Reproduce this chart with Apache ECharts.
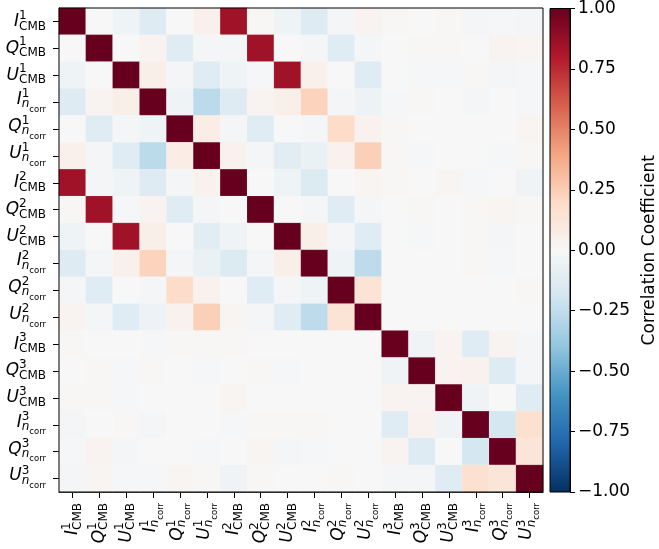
<!DOCTYPE html>
<html>
<head>
<meta charset="utf-8">
<script src="https://cdn.jsdelivr.net/npm/echarts@6/dist/echarts.min.js"></script>
<style>
html, body { margin: 0; padding: 0; background: #fff; }
#chart { width: 659px; height: 549px; }
</style>
</head>
<body>
<div id="chart"></div>
<script>
// labels: letter ^ map index _ component
var categories = [
    'I^1_CMB', 'Q^1_CMB', 'U^1_CMB', 'I^1_ncorr', 'Q^1_ncorr', 'U^1_ncorr',
    'I^2_CMB', 'Q^2_CMB', 'U^2_CMB', 'I^2_ncorr', 'Q^2_ncorr', 'U^2_ncorr',
    'I^3_CMB', 'Q^3_CMB', 'U^3_CMB', 'I^3_ncorr', 'Q^3_ncorr', 'U^3_ncorr'
];

// correlation matrix, row by row (top row first)
var corr = [
    [1, 0, -0.05, -0.13, 0, 0.05, 0.85, 0.01, -0.05, -0.13, -0.02, 0.03, 0.01, 0, 0.01, -0.02, -0.01, -0.02],
    [0, 1, 0, 0.03, -0.12, -0.02, -0.02, 0.85, 0, -0.02, -0.12, -0.02, 0, 0.01, 0.01, 0, 0.03, 0.02],
    [-0.05, 0, 1, 0.06, -0.02, -0.12, -0.05, -0.01, 0.85, 0.05, 0, -0.12, 0, -0.01, -0.01, 0.01, -0.02, -0.01],
    [-0.13, 0.03, 0.06, 1, -0.05, -0.27, -0.13, 0.03, 0.06, 0.23, -0.02, -0.06, -0.01, 0.01, 0, -0.02, 0, -0.01],
    [0, -0.12, -0.02, -0.05, 1, 0.07, -0.02, -0.12, 0, -0.02, 0.19, 0.04, 0.01, 0, 0, 0, 0, 0.02],
    [0.05, -0.02, -0.12, -0.27, 0.07, 1, 0.04, -0.02, -0.11, -0.07, 0.04, 0.24, 0.01, -0.01, 0, 0, -0.01, 0.01],
    [0.85, -0.02, -0.05, -0.13, -0.02, 0.04, 1, 0, -0.05, -0.14, 0, 0.02, 0.01, 0, 0.02, -0.01, 0, -0.04],
    [0.01, 0.85, -0.01, 0.03, -0.12, -0.02, 0, 1, 0, -0.02, -0.12, -0.02, 0, 0.01, 0, 0.01, 0.02, 0.01],
    [-0.05, 0, 0.85, 0.06, 0, -0.11, -0.05, 0, 1, 0.06, -0.02, -0.12, 0, -0.01, 0, 0.01, -0.02, 0],
    [-0.13, -0.02, 0.05, 0.23, -0.02, -0.07, -0.14, -0.02, 0.06, 1, -0.05, -0.26, 0, 0, 0, 0.01, -0.01, 0],
    [-0.02, -0.12, 0, -0.02, 0.19, 0.04, 0, -0.12, -0.02, -0.05, 1, 0.14, 0, 0, 0, 0, 0, 0.01],
    [0.03, -0.02, -0.12, -0.06, 0.04, 0.24, 0.02, -0.02, -0.12, -0.26, 0.14, 1, 0, 0, 0, 0, 0, 0],
    [0.01, 0, 0, -0.01, 0.01, 0.01, 0.01, 0, 0, 0, 0, 0, 1, -0.04, 0.03, -0.12, 0.03, -0.02],
    [0, 0.01, -0.01, 0.01, 0, -0.01, 0, 0.01, -0.01, 0, 0, 0, -0.04, 1, 0.03, 0.04, -0.13, -0.02],
    [0.01, 0.01, -0.01, 0, 0, 0, 0.02, 0, 0, 0, 0, 0, 0.03, 0.03, 1, -0.04, 0, -0.12],
    [-0.02, 0, 0.01, -0.02, 0, 0, -0.01, 0.01, 0.01, 0.01, 0, 0, -0.12, 0.04, -0.04, 1, -0.18, 0.16],
    [-0.01, 0.03, -0.02, 0, 0, -0.01, 0, 0.02, -0.02, -0.01, 0, 0, 0.03, -0.13, 0, -0.18, 1, 0.13],
    [-0.02, 0.02, -0.01, -0.01, 0.02, 0.01, -0.04, 0.01, 0, 0, 0.01, 0, -0.02, -0.02, -0.12, 0.16, 0.13, 1]
];

// colour bar range
var cbarMin = -1;
var cbarMax = 1;
var cbarStep = 0.25;

// RdBu_r
var rdbuR = ['#053061', '#2166ac', '#4393c3', '#92c5de', '#d1e5f0', '#f7f7f7',
    '#fddbc7', '#f4a582', '#d6604d', '#b2182b', '#67001f'];

var FONT = 'DejaVu Sans';

var heatData = [];
corr.forEach(function (row, i) {
    row.forEach(function (v, j) {
        heatData.push([j, i, v]);
    });
});

function richLabel(name) {
    var m = name.match(/^(\w)\^(\d)_(\w+)$/);
    if (m[3] === 'CMB') {
        return '{m|' + m[1] + '}{p|' + m[2] + '}{s|CMB}';
    }
    return '{mn|' + m[1] + '}{pn|' + m[2] + '}{n|n}{c|corr}';
}

function tok(o) {
    o.fontFamily = FONT;
    o.color = '#000';
    o.align = 'left';
    return o;
}

var richStyles = {
    m: tok({ fontStyle: 'italic', fontSize: 17, lineHeight: 30, verticalAlign: 'middle' }),
    p: tok({ fontSize: 12, width: 0, verticalAlign: 'top', padding: [3, 0, 0, 0] }),
    s: tok({ fontSize: 12, verticalAlign: 'bottom', padding: [0, 0, 4, 0] }),
    mn: tok({ fontStyle: 'italic', fontSize: 17, lineHeight: 30, verticalAlign: 'top', padding: [4, 0, 0, 0] }),
    pn: tok({ fontSize: 12, width: 0, verticalAlign: 'top', padding: [1, 0, 0, 0] }),
    n: tok({ fontStyle: 'italic', fontSize: 12, verticalAlign: 'bottom', padding: [0, 0, 7, 0] }),
    c: tok({ fontSize: 8.5, verticalAlign: 'bottom', padding: [0, 0, 3, 0] })
};

// colour bar gradients (object bounding box, top -> bottom)
var posStops = [], negStops = [];
for (var k = 0; k <= 5; k++) {
    posStops.push({ offset: k / 5, color: rdbuR[10 - k] });
    negStops.push({ offset: k / 5, color: rdbuR[5 - k] });
}

var chart = echarts.init(document.getElementById('chart'), null, { renderer: 'canvas' });

chart.setOption({
    animation: false,
    backgroundColor: '#fff',
    grid: [
        { left: 59, top: 8, width: 484, height: 484, show: true, z: 3,
          backgroundColor: 'transparent', borderColor: '#000', borderWidth: 1 },
        { left: 550, top: 8, width: 25, height: 484, show: true, z: 3,
          backgroundColor: 'transparent', borderColor: '#000', borderWidth: 1 }
    ],
    visualMap: {
        show: false,
        seriesIndex: 0,
        dimension: 2,
        min: cbarMin,
        max: cbarMax,
        inRange: { color: rdbuR }
    },
    xAxis: [
        {
            type: 'category',
            gridIndex: 0,
            data: categories,
            position: 'bottom',
            axisLine: { show: true, lineStyle: { color: '#000', width: 1 } },
            axisTick: { show: true, alignWithLabel: true, length: 6, lineStyle: { color: '#000', width: 1 } },
            axisLabel: { interval: 0, rotate: 90, margin: 11, formatter: richLabel, rich: richStyles },
            splitLine: { show: false }
        },
        {
            type: 'category',
            gridIndex: 1,
            data: [''],
            show: false
        }
    ],
    yAxis: [
        {
            type: 'category',
            gridIndex: 0,
            data: categories,
            inverse: true,
            axisLine: { show: true, lineStyle: { color: '#000', width: 1 } },
            axisTick: { show: true, alignWithLabel: true, length: 6, lineStyle: { color: '#000', width: 1 } },
            axisLabel: { interval: 0, margin: 13, formatter: richLabel, rich: richStyles },
            splitLine: { show: false }
        },
        {
            type: 'value',
            gridIndex: 1,
            position: 'right',
            min: cbarMin,
            max: cbarMax,
            interval: cbarStep,
            axisLine: { show: true, lineStyle: { color: '#000', width: 1 } },
            axisTick: { show: true, length: 5, lineStyle: { color: '#000', width: 1 } },
            axisLabel: {
                margin: 8,
                fontFamily: FONT,
                fontSize: 17,
                color: '#000',
                formatter: function (v) { return v.toFixed(2).replace('-', '\u2212'); }
            },
            splitLine: { show: false },
            name: 'Correlation Coefficient',
            nameLocation: 'middle',
            nameRotate: 90,
            nameGap: 71,
            nameTextStyle: { fontFamily: FONT, fontSize: 17, color: '#000' }
        }
    ],
    series: [
        {
            type: 'heatmap',
            xAxisIndex: 0,
            yAxisIndex: 0,
            data: heatData,
            itemStyle: { borderColor: 'rgba(255,255,255,0.25)', borderWidth: 0.5 },
            emphasis: { disabled: true }
        },
        {
            type: 'bar',
            xAxisIndex: 1,
            yAxisIndex: 1,
            data: [cbarMax],
            barWidth: '100%',
            silent: true,
            itemStyle: { color: new echarts.graphic.LinearGradient(0, 0, 0, 1, posStops) }
        },
        {
            type: 'bar',
            xAxisIndex: 1,
            yAxisIndex: 1,
            data: [cbarMin],
            barWidth: '100%',
            barGap: '-100%',
            silent: true,
            itemStyle: { color: new echarts.graphic.LinearGradient(0, 0, 0, 1, negStops) }
        }
    ]
});
</script>
</body>
</html>
